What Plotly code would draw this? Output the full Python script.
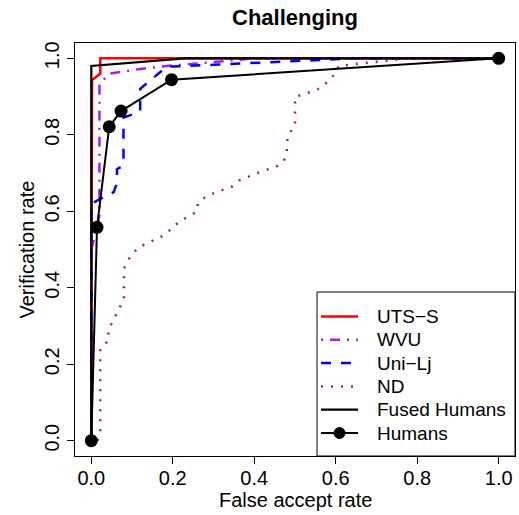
import plotly.graph_objects as go

# ---- data ----
uts_x = [0.0, 0.0, 0.0017, 0.022, 0.022, 1.0]
uts_y = [0.0, 0.5, 0.943, 0.960, 1.0, 1.0]

wvu_x = [0.0, 0.0, 0.015, 0.02, 0.02, 0.046, 0.12, 0.185, 0.30, 0.40, 1.0]
wvu_y = [0.0, 0.50, 0.56, 0.59, 0.934, 0.96, 0.972, 0.98, 0.99, 1.0, 1.0]

unilj_x = [0.0, 0.0, 0.055, 0.063, 0.063, 0.079, 0.079, 0.12, 0.12, 0.185, 0.30, 0.45, 0.60, 0.65, 1.0]
unilj_y = [0.0, 0.62, 0.65, 0.674, 0.71, 0.72, 0.845, 0.86, 0.92, 0.978, 0.983, 0.99, 0.997, 1.0, 1.0]

nd_x = [0.015, 0.022, 0.022, 0.042, 0.042, 0.08, 0.08, 0.095, 0.115, 0.14, 0.18, 0.216,
        0.258, 0.262, 0.28, 0.30, 0.346, 0.364, 0.408, 0.454, 0.473, 0.48, 0.48, 0.485,
        0.50, 0.50, 0.545, 0.567, 0.584, 0.60, 0.607, 0.75, 0.78, 1.0]
nd_y = [0.0, 0.02, 0.24, 0.262, 0.29, 0.37, 0.45, 0.48, 0.505, 0.517, 0.538, 0.573,
        0.598, 0.62, 0.638, 0.647, 0.665, 0.681, 0.70, 0.717, 0.732, 0.754, 0.78, 0.803,
        0.822, 0.899, 0.914, 0.925, 0.943, 0.961, 0.98, 0.996, 1.0, 1.0]

fused_x = [0.0, 0.0, 0.23, 1.0]
fused_y = [0.0, 0.98, 1.0, 1.0]

humans_x = [0.0, 0.014, 0.044, 0.073, 0.197, 1.0]
humans_y = [0.0, 0.558, 0.821, 0.862, 0.944, 1.0]

x_ticks = [0.0, 0.2, 0.4, 0.6, 0.8, 1.0]
y_ticks = [0.0, 0.2, 0.4, 0.6, 0.8, 1.0]

series_names = ["UTS\u2212S", "WVU", "Uni\u2212Lj", "ND", "Fused Humans", "Humans"]

FONT = "Liberation Sans, Arial, sans-serif"

styles = [
    dict(color="#FF0000", width=2.5, dash="solid"),
    dict(color="#A020F0", width=2.5, dash="2px,7px,10px,7px"),
    dict(color="#0000FF", width=2.5, dash="10px,10px"),
    dict(color="#A52A2A", width=2.5, dash="2px,8px"),
    dict(color="black", width=2.2, dash="solid"),
    dict(color="black", width=2, dash="solid"),
]
xs = [uts_x, wvu_x, unilj_x, nd_x, fused_x, humans_x]
ys = [uts_y, wvu_y, unilj_y, nd_y, fused_y, humans_y]

fig = go.Figure()
for i, name in enumerate(series_names):
    is_h = (name == "Humans")
    fig.add_trace(go.Scatter(
        x=xs[i], y=ys[i], mode="lines+markers" if is_h else "lines", name=name,
        line=styles[i],
        marker=dict(color="black", size=13, symbol="circle") if is_h else None,
        showlegend=False, hoverinfo="skip"))

# ---- legend drawn in plot-area (paper) coordinates, R style ----
W, H = 440.0, 413.0  # plot area in px
shapes = [dict(type="rect", xref="paper", yref="paper",
               x0=(317 - 75) / W, x1=1.0, y0=0.0, y1=(456 - 292) / H,
               line=dict(color="black", width=1), fillcolor="white", layer="above")]
annotations = []
for i, name in enumerate(series_names):
    py = 316.5 + 23.3 * i
    yy = (456 - py) / H
    st = styles[i]
    shapes.append(dict(type="line", xref="paper", yref="paper",
                       x0=(321 - 75) / W, x1=(358 - 75) / W, y0=yy, y1=yy,
                       line=dict(color=st["color"], width=st["width"], dash=st["dash"]),
                       layer="above"))
    if name == "Humans":
        r = 5.5
        cx = 339.5
        shapes.append(dict(type="circle", xref="paper", yref="paper",
                           x0=(cx - r - 75) / W, x1=(cx + r - 75) / W,
                           y0=(456 - py - r) / H, y1=(456 - py + r) / H,
                           fillcolor="black", line=dict(color="black", width=1),
                           layer="above"))
    annotations.append(dict(text=name, xref="paper", yref="paper",
                            x=(375 - 75) / W, y=yy, xanchor="left", yanchor="middle",
                            showarrow=False, font=dict(size=19, family=FONT, color="black")))

# axis titles (R-style placement)
annotations.append(dict(text="False accept rate", xref="paper", yref="paper",
                        x=0.5, y=(456 - 500) / H, xanchor="center", yanchor="middle",
                        showarrow=False, font=dict(size=20, family=FONT, color="black")))
annotations.append(dict(text="Verification rate", xref="paper", yref="paper",
                        x=(26 - 75) / W, y=0.5, xanchor="center", yanchor="middle",
                        textangle=-90, showarrow=False,
                        font=dict(size=20, family=FONT, color="black")))

fig.update_layout(
    width=519, height=515,
    margin=dict(l=75, r=4, t=43, b=59),
    paper_bgcolor="white", plot_bgcolor="white",
    font=dict(family=FONT, color="black", size=20),
    title=dict(text="<b>Challenging</b>", font=dict(size=22, family=FONT, color="black"),
               x=0.5, xref="paper", xanchor="center",
               y=1 - 17 / 515, yref="container", yanchor="middle"),
    showlegend=False,
    shapes=shapes,
    annotations=annotations,
)
fig.update_xaxes(range=[-0.04, 1.04], tickvals=x_ticks, tickformat=".1f",
                 ticks="outside", ticklen=7, tickwidth=1, tickcolor="black",
                 showline=True, linecolor="black", linewidth=1, mirror=True,
                 showgrid=False, zeroline=False, automargin=False,
                 ticklabelstandoff=-3,
                 tickfont=dict(size=20, family=FONT))
fig.update_yaxes(range=[-0.04, 1.04], tickvals=y_ticks, tickformat=".1f",
                 ticks="outside", ticklen=7, tickwidth=1, tickcolor="black",
                 showline=True, linecolor="black", linewidth=1, mirror=True,
                 showgrid=False, zeroline=False, tickangle=-90, automargin=False,
                 ticklabelstandoff=0,
                 tickfont=dict(size=20, family=FONT))

fig.write_html("out.html", config={"displayModeBar": False},
               post_script="document.body.style.margin='0';")
